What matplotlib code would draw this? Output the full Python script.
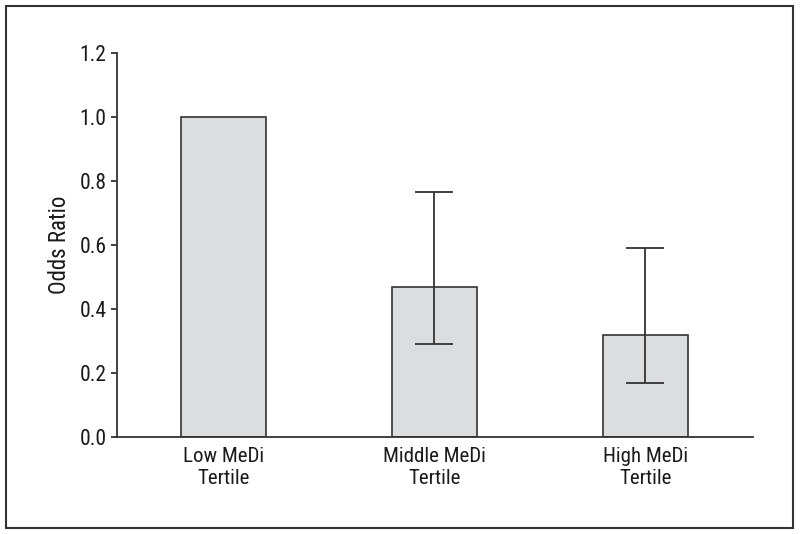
import numpy as np
import matplotlib
matplotlib.use('Agg')
import matplotlib.pyplot as plt
from matplotlib.patches import Rectangle

plt.rcParams['font.family'] = ['Liberation Sans Narrow', 'Roboto Condensed', 'Roboto', 'DejaVu Sans']

# Data
categories = ['Low MeDi\nTertile', 'Middle MeDi\nTertile', 'High MeDi\nTertile']
odds_ratio = [1.0, 0.47, 0.32]
ci_low = [None, 0.29, 0.17]
ci_high = [None, 0.765, 0.59]
y_ticks = [0.0, 0.2, 0.4, 0.6, 0.8, 1.0, 1.2]

edge = '#333333'
fill = '#dcdddf'
text = '#1a1a1a'

fig = plt.figure(figsize=(8, 5.34), dpi=100)
ax = fig.add_axes([0.146, 0.1816, 0.795, 0.7191])

x = np.arange(len(categories))
ax.bar(x, odds_ratio, width=0.403, color=fill, edgecolor=edge, linewidth=1.2, zorder=2)

# Error bars only for the non-reference groups
ex = [i for i in x if ci_low[i] is not None]
ey = [odds_ratio[i] for i in ex]
yerr = [[odds_ratio[i] - ci_low[i] for i in ex], [ci_high[i] - odds_ratio[i] for i in ex]]
ax.errorbar(ex, ey, yerr=yerr, fmt='none', ecolor=edge, elinewidth=1.3,
            capsize=13.5, capthick=1.3, zorder=3)

ax.set_xlim(-0.505, 2.51)
ax.set_ylim(0, 1.2)
ax.set_yticks(y_ticks)
ax.set_yticklabels([f'{v:.1f}' for v in y_ticks], fontsize=15.5)
ax.set_xticks(x)
ax.set_xticklabels(categories, fontsize=15, linespacing=1.2)
ax.tick_params(axis='x', length=0, pad=7, colors=text)
ax.tick_params(axis='y', length=4.5, width=1.3, color=edge, pad=3, labelcolor=text)
ax.set_ylabel('Odds Ratio', fontsize=16.5, color=text, labelpad=6)

for s in ['top', 'right']:
    ax.spines[s].set_visible(False)
for s in ['left', 'bottom']:
    ax.spines[s].set_linewidth(1.3)
    ax.spines[s].set_color(edge)

# Frame around the whole figure
fig.patches.append(Rectangle((6 / 800, 6 / 534), 787 / 800, 522 / 534,
                             transform=fig.transFigure, fill=False,
                             edgecolor=edge, linewidth=1.5))

fig.savefig('out.png', dpi=100)
